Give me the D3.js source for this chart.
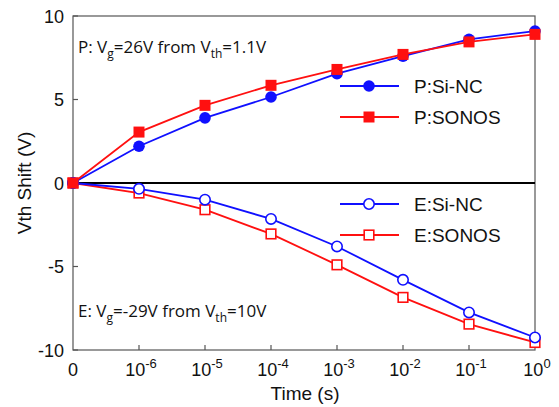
<!DOCTYPE html>
<html>
<head>
<meta charset="utf-8">
<script src="https://cdn.jsdelivr.net/npm/d3@7"></script>
<style>
  body { margin: 0; background: #fff; }
  .tick-text { font-family: Arial, "Liberation Sans", sans-serif; font-size: 18px; fill: #111; }
  .title-text { font-family: Arial, "Liberation Sans", sans-serif; font-size: 19px; fill: #111; }
  .legend-text { font-family: Arial, "Liberation Sans", sans-serif; font-size: 19px; fill: #111; }
  .note { font-family: "Open Sans", "DejaVu Sans", sans-serif; font-size: 17px; fill: #111; }
</style>
</head>
<body>
<div id="chart"></div>
<script>
// x positions are categorical steps: 0, 1e-6 ... 1e0
var time_labels = ["0", "-6", "-5", "-4", "-3", "-2", "-1", "0"]
var y_ticks = [10, 5, 0, -5, -10]

var p_sinc  = [0, 2.2, 3.9, 5.15, 6.55, 7.6, 8.6, 9.1]
var p_sonos = [0, 3.05, 4.65, 5.85, 6.8, 7.7, 8.45, 8.9]
var e_sinc  = [0, -0.35, -1.0, -2.15, -3.8, -5.8, -7.75, -9.25]
var e_sonos = [0, -0.6, -1.6, -3.05, -4.9, -6.85, -8.45, -9.55]

var series = [
  {name: "P:Si-NC", values: p_sinc,  color: "#1010ff", shape: "circle", filled: true},
  {name: "P:SONOS", values: p_sonos, color: "#ff1010", shape: "square", filled: true},
  {name: "E:Si-NC", values: e_sinc,  color: "#1010ff", shape: "circle", filled: false},
  {name: "E:SONOS", values: e_sonos, color: "#ff1010", shape: "square", filled: false}
]

var width = 559, height = 407
var left = 73, right = 535, top_y = 16, bottom = 350

var svg = d3.select("#chart").append("svg")
    .attr("width", width)
    .attr("height", height)

var x = d3.scaleLinear().domain([0, 7]).range([left, right])
var y = d3.scaleLinear().domain([-10, 10]).range([bottom, top_y])

// frame
svg.append("rect")
    .attr("x", left).attr("y", top_y)
    .attr("width", right - left).attr("height", bottom - top_y)
    .attr("fill", "none").attr("stroke", "#555").attr("stroke-width", 1.2)

// y ticks (inward)
y_ticks.forEach(function(t) {
  svg.append("line")
      .attr("x1", left).attr("x2", left + 5)
      .attr("y1", y(t)).attr("y2", y(t))
      .attr("stroke", "#555").attr("stroke-width", 1.2)
  svg.append("text")
      .attr("class", "tick-text")
      .attr("x", left - 9).attr("y", y(t) + 6.5)
      .attr("text-anchor", "end")
      .text(t)
})

// x ticks (inward) and labels
time_labels.forEach(function(lab, i) {
  if (i > 0 && i < 7) {
    svg.append("line")
        .attr("x1", x(i)).attr("x2", x(i))
        .attr("y1", bottom).attr("y2", bottom - 5)
        .attr("stroke", "#555").attr("stroke-width", 1.2)
  }
  var t = svg.append("text")
      .attr("class", "tick-text")
      .attr("y", 376)
      .attr("text-anchor", "middle")
  if (i == 0) {
    t.attr("x", x(i)).text("0")
  } else {
    t.attr("x", x(i) + 2)
    t.append("tspan").text("10")
    t.append("tspan").attr("dy", -8).style("font-size", "13px").text(lab)
  }
})

// zero line
svg.append("line")
    .attr("x1", left).attr("x2", right)
    .attr("y1", y(0)).attr("y2", y(0))
    .attr("stroke", "#000").attr("stroke-width", 2)

// axis titles
svg.append("text")
    .attr("class", "title-text")
    .attr("x", 305).attr("y", 400)
    .attr("text-anchor", "middle")
    .text("Time (s)")

svg.append("text")
    .attr("class", "title-text")
    .attr("text-anchor", "middle")
    .attr("transform", "translate(31," + ((top_y + bottom) / 2) + ")rotate(-90)")
    .text("Vth Shift (V)")

// annotations
function note(xp, yp, pre, vg, post) {
  var t = svg.append("text").attr("class", "note").attr("x", xp).attr("y", yp)
  t.append("tspan").text(pre + "V")
  t.append("tspan").attr("dy", 5).style("font-size", "12px").text("g")
  t.append("tspan").attr("dy", -5).text(vg + " from V")
  t.append("tspan").attr("dy", 5).style("font-size", "12px").text("th")
  t.append("tspan").attr("dy", -5).text(post)
}
note(78, 53, "P: ", "=26V", "=1.1V")
note(78, 317, "E: ", "=-29V", "=10V")

var line = d3.line()
    .x(function(d, i) { return x(i) })
    .y(function(d) { return y(d) })

function marker(g, s, cx, cy) {
  if (s.shape == "circle") {
    g.append("circle")
        .attr("cx", cx).attr("cy", cy)
        .attr("r", s.filled ? 5.8 : 5.2)
        .attr("fill", s.filled ? s.color : "#fff")
        .attr("stroke", s.color).attr("stroke-width", s.filled ? 0 : 1.6)
  } else {
    var h = s.filled ? 5.5 : 4.8
    g.append("rect")
        .attr("x", cx - h).attr("y", cy - h)
        .attr("width", 2 * h).attr("height", 2 * h)
        .attr("fill", s.filled ? s.color : "#fff")
        .attr("stroke", s.color).attr("stroke-width", s.filled ? 0 : 1.6)
  }
}

// draw E series first, P on top
var order = [3, 2, 0, 1]
order.forEach(function(k) {
  var s = series[k]
  var g = svg.append("g")
  g.append("path")
      .attr("d", line(s.values))
      .attr("fill", "none")
      .attr("stroke", s.color)
      .attr("stroke-width", 1.8)
  s.values.forEach(function(v, i) { marker(g, s, x(i), y(v)) })
})

// legends
var leg_y = [86, 117, 204, 235]
series.forEach(function(s, k) {
  var g = svg.append("g")
  g.append("line")
      .attr("x1", 340).attr("x2", 399)
      .attr("y1", leg_y[k]).attr("y2", leg_y[k])
      .attr("stroke", s.color).attr("stroke-width", 1.8)
  marker(g, s, 369, leg_y[k])
  g.append("text")
      .attr("class", "legend-text")
      .attr("x", 414).attr("y", leg_y[k] + 7)
      .text(s.name)
})
</script>
</body>
</html>
